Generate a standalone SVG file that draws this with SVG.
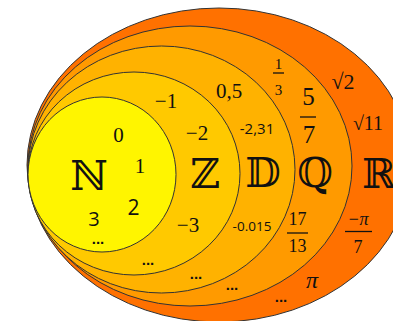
<svg xmlns="http://www.w3.org/2000/svg" width="393" height="321" viewBox="0 0 393 321">
<style>
.set{stroke:#333;stroke-width:1}
.bb{font-family:"DejaVu Serif","DejaVu Sans",serif;font-size:41px;fill:#111;text-anchor:middle}
.n{font-family:"Liberation Serif","DejaVu Serif",serif;fill:#111;text-anchor:middle}
.s{font-family:"Open Sans","Liberation Sans",sans-serif;fill:#111;text-anchor:middle}
.d{font-family:"Liberation Sans",sans-serif;font-weight:bold;font-size:15px;fill:#111;text-anchor:middle}
.bar{stroke:#111;stroke-width:1.3}
</style>
<rect width="393" height="321" fill="#fff"/>
<g id="R">
<ellipse class="set" cx="219" cy="165" rx="192" ry="157" fill="#ff7100"/>
<text class="bb" x="379" y="188">ℝ</text>
<text class="n" x="343" y="89" font-size="22">√2</text>
<text class="n" x="368" y="130" font-size="20">√11</text>
<text class="n" x="358" y="225" font-size="18" font-style="italic">−π</text>
<line class="bar" x1="345" y1="231.5" x2="372" y2="231.5"/>
<text class="n" x="358" y="253" font-size="18">7</text>
<text class="n" x="312" y="288" font-size="24" font-style="italic">π</text>
<text class="d" x="281" y="302">...</text>
</g>
<g id="Q">
<ellipse class="set" cx="190" cy="166" rx="162" ry="140" fill="#ff9a00"/>
<text class="bb" x="315" y="187">ℚ</text>
<text class="n" x="278.5" y="69" font-size="15">1</text>
<line class="bar" x1="273" y1="73" x2="284" y2="73"/>
<text class="n" x="278.5" y="95" font-size="15">3</text>
<text class="n" x="308.5" y="105" font-size="25">5</text>
<line class="bar" x1="300" y1="117" x2="316" y2="117"/>
<text class="n" x="309" y="143" font-size="25">7</text>
<text class="n" x="297.5" y="225" font-size="18">17</text>
<line class="bar" x1="287" y1="233" x2="308" y2="233"/>
<text class="n" x="297.5" y="252" font-size="18">13</text>
<text class="d" x="232" y="290">...</text>
</g>
<g id="D">
<ellipse class="set" cx="161.5" cy="169.5" rx="133.5" ry="123.5" fill="#ffb200"/>
<text class="bb" x="263" y="187">𝔻</text>
<text class="n" x="229" y="98" font-size="21">0,5</text>
<text class="s" x="257" y="134" font-size="15">-2,31</text>
<text class="s" x="252" y="231" font-size="13.5">-0.015</text>
<text class="d" x="196" y="279">...</text>
</g>
<g id="Z">
<ellipse class="set" cx="134" cy="173.5" rx="106" ry="101.5" fill="#ffc900"/>
<text class="bb" x="205" y="188">ℤ</text>
<text class="n" x="166" y="108" font-size="21">−1</text>
<text class="n" x="197" y="140" font-size="21">−2</text>
<text class="n" x="188" y="232" font-size="21">−3</text>
<text class="d" x="148" y="265">...</text>
</g>
<g id="N">
<ellipse class="set" cx="102" cy="174.5" rx="74" ry="77.5" fill="#fff500"/>
<text class="bb" x="89" y="190">ℕ</text>
<text class="n" x="118.5" y="142" font-size="21">0</text>
<text class="n" x="140" y="173" font-size="21">1</text>
<text class="s" x="133.5" y="215" font-size="21">2</text>
<text class="s" x="94" y="226" font-size="20">3</text>
<text class="d" x="98" y="244">...</text>
</g>
<g id="connectors"/>
</svg>
